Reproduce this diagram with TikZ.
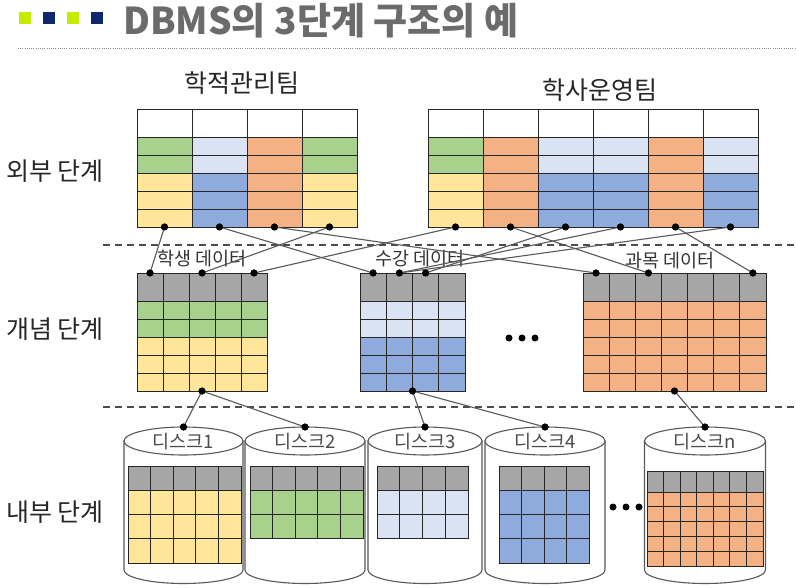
\documentclass[tikz,border=0pt]{standalone}
\usepackage{fontspec}
\newfontfamily\krfont{Noto Sans CJK KR}
\usetikzlibrary{positioning}
\definecolor{cellgreen}{HTML}{A9D18E}
\definecolor{cellyellow}{HTML}{FFE699}
\definecolor{celllight}{HTML}{DAE3F3}
\definecolor{cellblue}{HTML}{8FAADC}
\definecolor{cellorange}{HTML}{F4B183}
\definecolor{cellgray}{HTML}{A6A6A6}
\definecolor{marklime}{HTML}{C4EC00}
\definecolor{marknavy}{HTML}{0E2A6C}
\newcommand{\gridtable}[7]{%
	\draw[cellline] (#1,#2) rectangle ({#1+#3*#4},{#2+#5+#7*#6});
	\foreach \k in {1,...,#3}
		\draw[cellline] ({#1+\k*#4},#2) -- ++(0,{#5+#7*#6});
	\foreach \r in {0,...,#7}
		\draw[cellline] (#1,{#2+#5+\r*#6}) -- ++({#3*#4},0);
}
\newcommand{\drum}[2]{%
	\draw[disk] ({#1-#2},441) -- ({#1-#2},570) arc[start angle=180, end angle=0, x radius=#2, y radius=13.5] -- ({#1+#2},441) -- cycle;
	\draw[disk] (#1,441) ellipse [x radius=#2, y radius=14];
}
\begin{document}
\begin{tikzpicture}
	[x=1pt, y=-1pt,
	cellline/.style={draw=black!85, line width=0.9pt},
	link/.style={draw=black!65, line width=1.1pt},
	jointdot/.style={circle, fill=black, inner sep=0pt, minimum size=7pt},
	levelline/.style={draw=black!70, line width=1.2pt, dash pattern=on 7pt off 5pt},
	disk/.style={draw=black!65, fill=white, line width=1.1pt},
	lvl/.style={font=\krfont\fontsize{25}{30}\selectfont, text=black!85},
	datalabel/.style={font=\krfont\fontsize{18.5}{22}\selectfont, text=black!80},
	disklabel/.style={font=\krfont\fontsize{18.5}{22}\selectfont, text=black!70}]
	\useasboundingbox (0,0) rectangle (796,588);
	\fill[white] (0,0) rectangle (796,588);
	% title
	\fill[marklime] (19,12) rectangle ++(12,12);
	\fill[marknavy] (43,12) rectangle ++(12,12);
	\fill[marklime] (67,12) rectangle ++(12,12);
	\fill[marknavy] (91,12) rectangle ++(12,12);
	\node[anchor=west, inner sep=0pt, font=\krfont\bfseries\fontsize{37}{44}\selectfont, text=black!58] (title) at (123,21) {DBMS의 3단계 구조의 예};
	\draw[draw=black!45, line width=1pt, dash pattern=on 1pt off 1.2pt] (18,49) -- (796,49);
	% levels
	\node[lvl] (outer) at (55,171) {외부 단계};
	\node[lvl] (concept) at (55,329) {개념 단계};
	\node[lvl] (inner) at (55,512) {내부 단계};
	\draw[levelline] (103,245) -- (796,245);
	\draw[levelline] (103,407) -- (796,407);
	\node[lvl] (team1) at (242,83) {학적관리팀};
	\node[lvl] (team2) at (600,90) {학사운영팀};
	% external views
	\foreach \i/\ca/\cb in {0/cellgreen/cellyellow,1/celllight/cellblue,2/cellorange/cellorange,3/cellgreen/cellyellow}{
		\fill[\ca] ({137+\i*55},137) rectangle ++(55,36);
		\fill[\cb] ({137+\i*55},173) rectangle ++(55,54);
	}
	\gridtable{137}{109}{4}{55}{28}{18}{5}
	\foreach \i/\ca/\cb in {0/cellgreen/cellyellow,1/cellorange/cellorange,2/celllight/cellblue,3/celllight/cellblue,4/cellorange/cellorange,5/celllight/cellblue}{
		\fill[\ca] ({428+\i*55},137) rectangle ++(55,36);
		\fill[\cb] ({428+\i*55},173) rectangle ++(55,54);
	}
	\gridtable{428}{109}{6}{55}{28}{18}{5}
	% conceptual tables
	\fill[cellgray] (137,273) rectangle ++(130,28);
	\fill[cellgreen] (137,301) rectangle ++(130,36);
	\fill[cellyellow] (137,337) rectangle ++(130,54);
	\gridtable{137}{273}{5}{26}{28}{18}{5}
	\fill[cellgray] (360,273) rectangle ++(105,28);
	\fill[celllight] (360,301) rectangle ++(105,36);
	\fill[cellblue] (360,337) rectangle ++(105,54);
	\gridtable{360}{273}{4}{26.25}{28}{18}{5}
	\fill[cellgray] (583,273) rectangle ++(183,28);
	\fill[cellorange] (583,301) rectangle ++(183,90);
	\gridtable{583}{273}{7}{26.15}{28}{18}{5}
	\node[datalabel] (student) at (202,259) {학생 데이터};
	\node[datalabel] (enrol) at (420,259) {수강 데이터};
	\node[datalabel] (course) at (670,261) {과목 데이터};
	\foreach \x in {509,522,535}
		\fill (\x,338) circle[radius=3.5];
	% disks
	\drum{183.5}{59.5}
	\drum{305}{60}
	\drum{425}{57}
	\drum{545}{60}
	\drum{705}{60.5}
	\node[disklabel] (disk1) at (183.5,442) {디스크1};
	\node[disklabel] (disk2) at (305,442) {디스크2};
	\node[disklabel] (disk3) at (425,442) {디스크3};
	\node[disklabel] (disk4) at (545,442) {디스크4};
	\node[disklabel] (diskn) at (705,442) {디스크n};
	\fill[cellgray] (128,466) rectangle ++(113,24);
	\fill[cellyellow] (128,490) rectangle ++(113,73);
	\gridtable{128}{466}{5}{22.6}{24}{24.33}{3}
	\fill[cellgray] (250,466) rectangle ++(113,24);
	\fill[cellgreen] (250,490) rectangle ++(113,48.66);
	\gridtable{250}{466}{5}{22.6}{24}{24.33}{2}
	\fill[cellgray] (377,466) rectangle ++(91,24);
	\fill[celllight] (377,490) rectangle ++(91,48.66);
	\gridtable{377}{466}{4}{22.75}{24}{24.33}{2}
	\fill[cellgray] (499,466) rectangle ++(90,24);
	\fill[cellblue] (499,490) rectangle ++(90,73);
	\gridtable{499}{466}{4}{22.5}{24}{24.33}{3}
	\fill[cellgray] (647,471) rectangle ++(116,21);
	\fill[cellorange] (647,492) rectangle ++(116,74);
	\gridtable{647}{471}{7}{16.57}{21}{14.8}{5}
	\foreach \x in {613,626,639}
		\fill (\x,507) circle[radius=3.5];
	% joints
	\node[jointdot] (e1a) at (164.5,227) {};
	\node[jointdot] (e1b) at (219.5,227) {};
	\node[jointdot] (e1c) at (274.5,227) {};
	\node[jointdot] (e1d) at (329.5,227) {};
	\node[jointdot] (e2a) at (455.5,227) {};
	\node[jointdot] (e2b) at (510.5,227) {};
	\node[jointdot] (e2c) at (565.5,227) {};
	\node[jointdot] (e2d) at (620.5,227) {};
	\node[jointdot] (e2e) at (675.5,227) {};
	\node[jointdot] (e2f) at (730.5,227) {};
	\node[jointdot] (c1a) at (150,273) {};
	\node[jointdot] (c1b) at (202,273) {};
	\node[jointdot] (c1c) at (254,273) {};
	\node[jointdot] (c2a) at (373.1,273) {};
	\node[jointdot] (c2b) at (399.4,273) {};
	\node[jointdot] (c2c) at (425.6,273) {};
	\node[jointdot] (c3a) at (596,273) {};
	\node[jointdot] (c3b) at (648.4,273) {};
	\node[jointdot] (c3c) at (752.9,273) {};
	\node[jointdot] (c1o) at (202,391) {};
	\node[jointdot] (c2o) at (412.5,391) {};
	\node[jointdot] (c3o) at (674.5,391) {};
	\node[jointdot] (d1) at (183.5,427) {};
	\node[jointdot] (d2) at (305,427) {};
	\node[jointdot] (d3) at (425,427) {};
	\node[jointdot] (d4) at (545,427) {};
	\node[jointdot] (dn) at (705,427) {};
	% mappings
	\foreach \a/\b in {e1a/c1a,e1b/c2a,e1c/c3a,e1d/c1b,e2a/c1c,e2b/c3b,e2c/c2c,e2d/c2b,e2e/c3c,e2f/c2b,c1o/d1,c1o/d2,c2o/d3,c2o/d4,c3o/dn}
		\draw[link] (\a.center) -- (\b.center);
	\foreach \n in {e1a,e1b,e1c,e1d,e2a,e2b,e2c,e2d,e2e,e2f,c1a,c1b,c1c,c2a,c2b,c2c,c3a,c3b,c3c,c1o,c2o,c3o,d1,d2,d3,d4,dn}
		\fill (\n) circle[radius=3.5];
\end{tikzpicture}
\end{document}
